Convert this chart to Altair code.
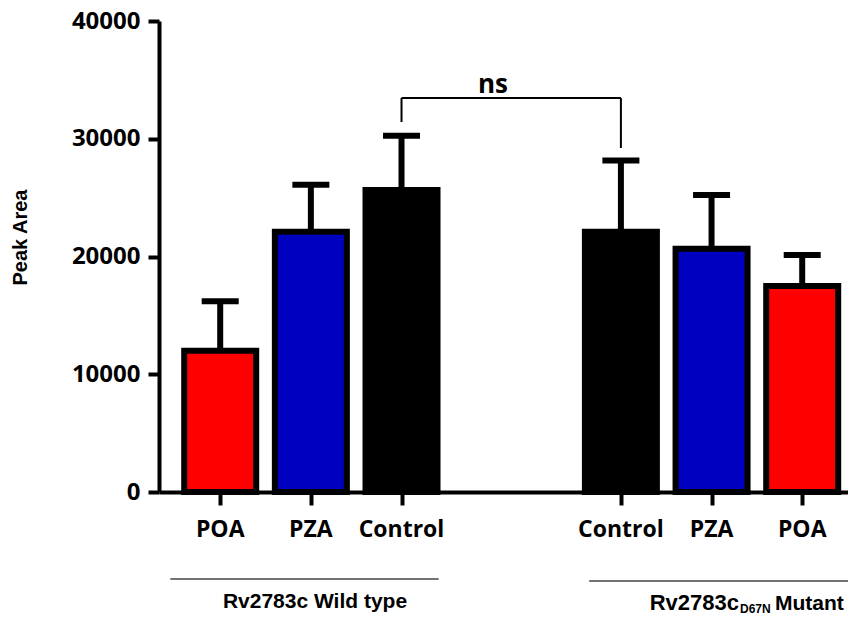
import altair as alt
import pandas as pd

# ---- data ----
groups = ["Rv2783c Wild type"] * 3 + ["Rv2783c D67N Mutant"] * 3
treatments = ["POA", "PZA", "Control", "Control", "PZA", "POA"]
means = [12000, 22100, 25650, 22100, 20650, 17500]
errors = [4200, 4000, 4600, 6050, 4570, 2630]
bar_colors = ["#FF0000", "#0000C0", "#000000", "#000000", "#0000C0", "#FF0000"]
y_ticks = [0, 10000, 20000, 30000, 40000]

# significance bracket (between the two Control bars)
bracket_label = "ns"
bracket_top = 33460
bracket_left_end = 31420
bracket_right_end = 29215

# ---- layout helpers ----
GAP = 2.42  # distance (in bar slots) between the two groups
slots = [i if i < 3 else i + GAP - 1 for i in range(6)]

df = pd.DataFrame({
    "group": groups,
    "treatment": treatments,
    "mean": means,
    "err": errors,
    "color": bar_colors,
    "pos": slots,
})
df["top"] = df["mean"] + df["err"]

FONT = "Open Sans"
xscale = alt.Scale(domain=[-0.62, 6.87], nice=False, zero=False)
yscale = alt.Scale(domain=[0, 40000], nice=False)

xaxis = alt.Axis(values=slots, labels=False, title=None, grid=False,
                 domainWidth=4, domainColor="black", tickWidth=4,
                 tickColor="black", tickSize=13)
yaxis = alt.Axis(values=y_ticks, format="d", title="Peak Area", grid=False,
                 domainWidth=4, domainColor="black", tickWidth=4,
                 tickColor="black", tickSize=11, labelPadding=8,
                 labelFont=FONT, labelFontWeight="bold", labelFontSize=24,
                 labelColor="black",
                 titleFont="Liberation Sans", titleFontWeight="bold",
                 titleFontSize=20, titleColor="black", titleAngle=-90,
                 titleX=-133, titleY=216, titleAlign="center",
                 titleBaseline="alphabetic")

X = alt.X("pos:Q", scale=xscale, axis=xaxis)

base = alt.Chart(df)

err_line = base.mark_rule(strokeWidth=6, color="black").encode(
    x=X, y=alt.Y("mean:Q", scale=yscale, axis=yaxis), y2="top:Q")
err_cap = base.mark_tick(orient="horizontal", size=37, thickness=6,
                         color="black", opacity=1).encode(
    x=X, y=alt.Y("top:Q", scale=yscale, axis=yaxis))
bars = base.mark_bar(size=72, stroke="black", strokeWidth=6, opacity=1).encode(
    x=X, y=alt.Y("mean:Q", scale=yscale, axis=yaxis),
    color=alt.Color("color:N", scale=None))

xlabels = base.mark_text(font=FONT, fontWeight="bold", fontSize=23,
                         baseline="alphabetic", align="center",
                         color="black").encode(
    x=X, y=alt.value(516), text="treatment:N")

# bracket
ctrl_left = slots[2]
ctrl_right = slots[3]
br = pd.DataFrame({
    "x": [ctrl_left, ctrl_left, ctrl_right],
    "x2": [ctrl_right, ctrl_left, ctrl_right],
    "y": [bracket_top, bracket_top, bracket_top],
    "y2": [bracket_top, bracket_left_end, bracket_right_end],
})
bracket = alt.Chart(br).mark_rule(strokeWidth=2, color="black").encode(
    x=alt.X("x:Q", scale=xscale, axis=xaxis), x2="x2:Q",
    y=alt.Y("y:Q", scale=yscale, axis=yaxis), y2="y2:Q")
ns = alt.Chart(pd.DataFrame({"t": [bracket_label]})).mark_text(
    font=FONT, fontWeight="bold", fontSize=26, baseline="alphabetic",
    align="center", color="black").encode(
    x=alt.value(334), y=alt.value(72), text="t:N")

# group underlines
gl = pd.DataFrame({"x": [-0.55, 4.07], "x2": [2.41, 7.2], "yy": [558, 560]})
glines = alt.Chart(gl).mark_rule(strokeWidth=1.5, color="#444444").encode(
    x=alt.X("x:Q", scale=xscale, axis=xaxis), x2="x2:Q", y=alt.Y("yy:Q", scale=None))

GFONT = "Liberation Sans"
wt_text = alt.Chart(pd.DataFrame({"t": ["Rv2783c Wild type"]})).mark_text(
    font=GFONT, fontWeight="bold", fontSize=21, baseline="alphabetic",
    align="center", color="black").encode(
    x=alt.value(156), y=alt.value(587), text="t:N")
mut_a = alt.Chart(pd.DataFrame({"t": ["Rv2783c"]})).mark_text(
    font=GFONT, fontWeight="bold", fontSize=22, baseline="alphabetic",
    align="right", color="black").encode(
    x=alt.value(580), y=alt.value(589), text="t:N")
mut_sub = alt.Chart(pd.DataFrame({"t": ["D67N"]})).mark_text(
    font=GFONT, fontWeight="bold", fontSize=12, baseline="alphabetic",
    align="left", color="black").encode(
    x=alt.value(581), y=alt.value(592), text="t:N")
mut_b = alt.Chart(pd.DataFrame({"t": ["Mutant"]})).mark_text(
    font=GFONT, fontWeight="bold", fontSize=21, baseline="alphabetic",
    align="left", color="black").encode(
    x=alt.value(616), y=alt.value(589), text="t:N")

chart = alt.layer(
    err_line, err_cap, bars, xlabels, bracket, ns, glines,
    wt_text, mut_a, mut_sub, mut_b
).properties(
    width=689, height=471,
    autosize=alt.AutoSizeParams(type="none"),
    padding={"left": 151, "top": 13, "right": 0, "bottom": 123},
).configure_view(stroke=None).configure_axis(labelFlush=False)

chart.save("out.html", embed_options={"renderer": "svg", "actions": False})
